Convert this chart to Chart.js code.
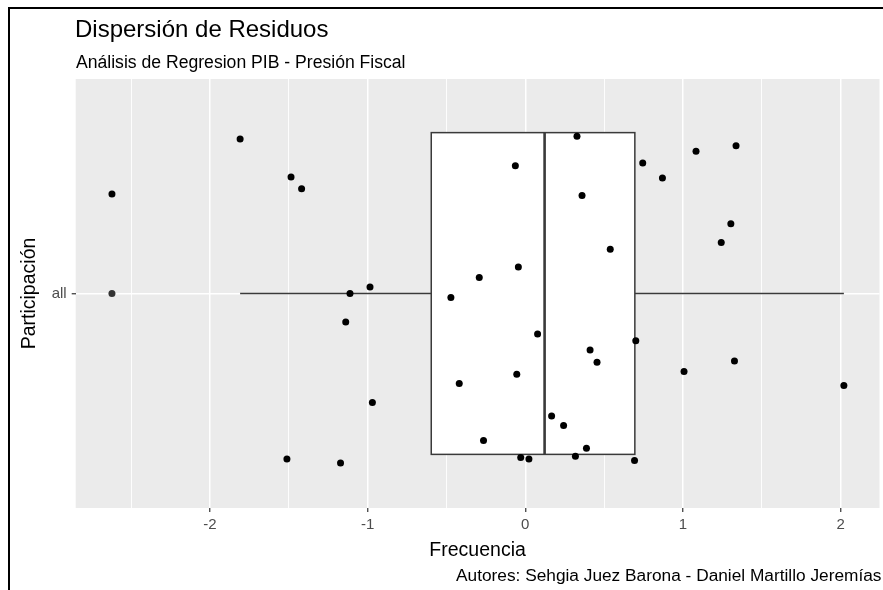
<!DOCTYPE html>
<html lang="es">
<head>
<meta charset="utf-8">
<title>Dispersión de Residuos</title>
<script src="https://cdn.jsdelivr.net/npm/chart.js@4.4.1/dist/chart.umd.min.js"></script>
<style>
  html, body { margin: 0; padding: 0; background: #ffffff; }
  #wrap { position: relative; width: 883px; height: 590px; }
  canvas { display: block; }
</style>
</head>
<body>
<div id="wrap"><canvas id="grafico" width="883" height="590"></canvas></div>
<script>
// Categoría del eje vertical
const categorias = ['all'];

// Residuos del modelo (eje horizontal)
const residuos = [
  -2.622, -1.809, -1.486, -1.419, -1.112, -0.985, -1.139, -0.970, -1.512, -1.172,
   0.328, -0.063,  0.745,  0.360,  0.539, -0.044, -0.292, -0.472,  0.078,  0.701,
   0.411,  0.455, -0.054, -0.419,  0.167,  0.243, -0.265,  0.388, -0.029,  0.023,
   0.318,  0.693,  0.870,  1.083,  1.337,  1.304,  1.243,  1.327,  1.007,  2.021
];

// Desplazamiento vertical de cada punto respecto a la categoría
const desplazamientoVertical = [
   0.278,  0.432,  0.326,  0.293,  0.000,  0.018, -0.080, -0.305, -0.463, -0.474,
   0.440,  0.357,  0.365,  0.274,  0.124,  0.074,  0.045, -0.011, -0.113, -0.132,
  -0.158, -0.192, -0.226, -0.252, -0.343, -0.369, -0.411, -0.433, -0.459, -0.463,
  -0.455, -0.467,  0.323,  0.398,  0.413,  0.195,  0.143, -0.189, -0.218, -0.257
];

// Marcas del eje horizontal
const ticksMayores = [-2, -1, 0, 1, 2];
const ticksMenores = [-2.5, -1.5, -0.5, 0.5, 1.5];

// Rango visible de los ejes
const rangoX = [-2.852, 2.247];
const rangoY = [0.4, 1.6];
const anchoCaja = 0.9;

// Estadísticos del diagrama de caja (cuantiles tipo 7)
function cuantil(ordenados, p) {
  const h = (ordenados.length - 1) * p;
  const lo = Math.floor(h);
  const hi = Math.min(lo + 1, ordenados.length - 1);
  return ordenados[lo] + (h - lo) * (ordenados[hi] - ordenados[lo]);
}
function estadisticasCaja(valores) {
  const s = [...valores].sort((a, b) => a - b);
  const q1 = cuantil(s, 0.25), mediana = cuantil(s, 0.5), q3 = cuantil(s, 0.75);
  const riq = q3 - q1;
  const limInf = q1 - 1.5 * riq, limSup = q3 + 1.5 * riq;
  const dentro = s.filter(v => v >= limInf && v <= limSup);
  return {
    q1, mediana, q3,
    bigoteInf: Math.min(...dentro),
    bigoteSup: Math.max(...dentro),
    atipicos: s.filter(v => v < limInf || v > limSup)
  };
}
const est = estadisticasCaja(residuos);

const puntos = residuos.map((v, i) => ({ x: v, y: 1 + desplazamientoVertical[i] }));
const atipicos = est.atipicos.map(v => ({ x: v, y: 1 }));

const FUENTE = '"Liberation Sans", Arial, sans-serif';

const cajaYTextos = {
  id: 'cajaYTextos',
  beforeDraw(chart) {
    const { ctx, chartArea: a } = chart;
    ctx.save();
    ctx.fillStyle = '#EBEBEB';
    ctx.fillRect(a.left, a.top, a.right - a.left, a.bottom - a.top);
    ctx.restore();
  },
  beforeDatasetsDraw(chart) {
    const { ctx } = chart;
    const xs = chart.scales.x, ys = chart.scales.y;
    const px = v => xs.getPixelForValue(v);
    const yc = ys.getPixelForValue(1);
    const yt = ys.getPixelForValue(1 + anchoCaja / 2);
    const yb = ys.getPixelForValue(1 - anchoCaja / 2);
    ctx.save();
    ctx.strokeStyle = '#3A3A3A';
    ctx.lineWidth = 1.4;
    // bigotes
    ctx.beginPath();
    ctx.moveTo(px(est.bigoteInf), yc); ctx.lineTo(px(est.q1), yc);
    ctx.moveTo(px(est.q3), yc); ctx.lineTo(px(est.bigoteSup), yc);
    ctx.stroke();
    // caja
    ctx.fillStyle = '#FFFFFF';
    ctx.lineWidth = 1.5;
    ctx.fillRect(px(est.q1), yt, px(est.q3) - px(est.q1), yb - yt);
    ctx.strokeRect(px(est.q1), yt, px(est.q3) - px(est.q1), yb - yt);
    // mediana
    ctx.lineWidth = 2.6;
    ctx.beginPath();
    ctx.moveTo(px(est.mediana), yt); ctx.lineTo(px(est.mediana), yb);
    ctx.stroke();
    ctx.restore();
  },
  afterDraw(chart) {
    const { ctx } = chart;
    ctx.save();
    ctx.fillStyle = '#000000';
    ctx.textBaseline = 'alphabetic';
    ctx.textAlign = 'left';
    ctx.font = '24px ' + FUENTE;
    ctx.fillText('Dispersión de Residuos', 75, 36.7);
    ctx.font = '17.6px ' + FUENTE;
    ctx.fillText('Análisis de Regresion PIB - Presión Fiscal', 76, 68.3);
    ctx.textAlign = 'right';
    ctx.font = '17.3px ' + FUENTE;
    ctx.fillText('Autores: Sehgia Juez Barona - Daniel Martillo Jeremías', 881.5, 581);
    // marco
    ctx.fillRect(8, 7, 875, 2);
    ctx.fillRect(8, 7, 2, 583);
    ctx.restore();
  }
};

const esMayor = v => ticksMayores.includes(v);

new Chart(document.getElementById('grafico'), {
  type: 'scatter',
  data: {
    datasets: [
      {
        label: 'residuos',
        data: puntos,
        backgroundColor: '#000000',
        borderWidth: 0,
        pointRadius: 3.5,
        pointHoverRadius: 3.5
      },
      {
        label: 'atípicos',
        data: atipicos,
        backgroundColor: '#333333',
        borderWidth: 0,
        pointRadius: 3.5,
        pointHoverRadius: 3.5
      }
    ]
  },
  options: {
    responsive: false,
    animation: false,
    devicePixelRatio: 1,
    layout: { padding: { top: 79, left: 0, right: 0, bottom: 0 } },
    plugins: {
      legend: { display: false },
      tooltip: { enabled: false },
      title: { display: false }
    },
    scales: {
      x: {
        type: 'linear',
        min: rangoX[0],
        max: rangoX[1],
        afterBuildTicks: s => {
          s.ticks = [...ticksMenores, ...ticksMayores].sort((a, b) => a - b).map(v => ({ value: v }));
        },
        afterFit: s => { s.height = 82; },
        border: { display: false },
        grid: {
          color: '#FFFFFF',
          lineWidth: c => (c.tick && esMayor(c.tick.value)) ? 1.5 : 0.9,
          tickColor: c => (c.tick && esMayor(c.tick.value)) ? '#333333' : 'rgba(0,0,0,0)',
          tickLength: 4,
          tickWidth: 1.2
        },
        ticks: {
          autoSkip: false,
          maxRotation: 0,
          padding: 4,
          color: '#4D4D4D',
          font: { family: FUENTE, size: 15 },
          callback: v => esMayor(v) ? String(v) : ''
        },
        title: {
          display: true,
          text: 'Frecuencia',
          color: '#000000',
          font: { family: FUENTE, size: 19.5 },
          padding: { top: 0, bottom: 28 }
        }
      },
      y: {
        type: 'linear',
        min: rangoY[0],
        max: rangoY[1],
        afterBuildTicks: s => {
          s.ticks = categorias.map((c, i) => ({ value: i + 1 }));
        },
        afterFit: s => { s.width = 75.7; },
        border: { display: false },
        grid: {
          color: '#FFFFFF',
          lineWidth: 1.5,
          tickColor: '#333333',
          tickLength: 4,
          tickWidth: 1.2
        },
        ticks: {
          padding: 5,
          color: '#4D4D4D',
          font: { family: FUENTE, size: 15 },
          callback: v => categorias[Math.round(v) - 1]
        },
        title: {
          display: true,
          text: 'Participación',
          color: '#000000',
          font: { family: FUENTE, size: 19.5 },
          padding: { top: 18, bottom: 0 }
        }
      }
    }
  },
  plugins: [cajaYTextos]
});
</script>
</body>
</html>
